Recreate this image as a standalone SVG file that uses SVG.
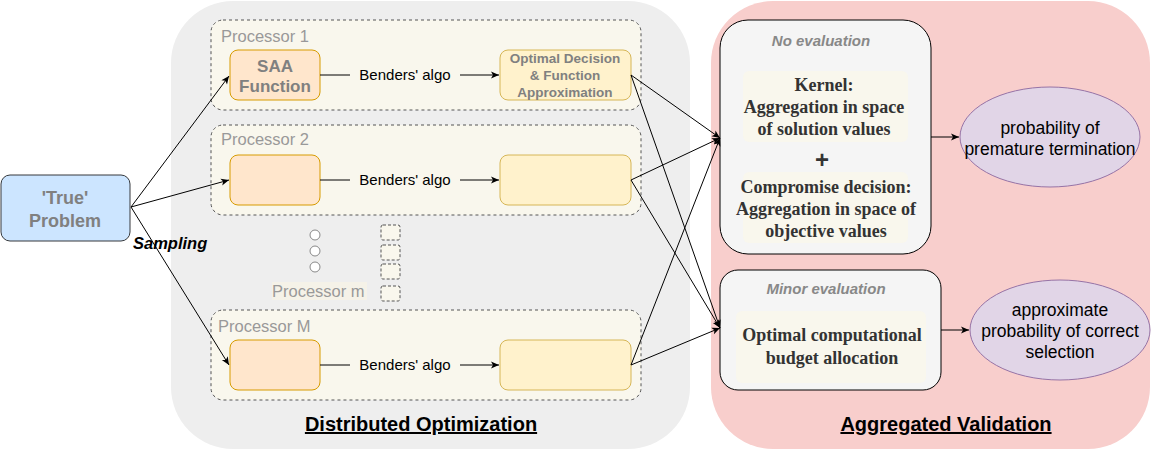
<svg xmlns="http://www.w3.org/2000/svg" width="1151" height="451" viewBox="0 0 1151 451">
<defs>
<marker id="ah" markerWidth="10" markerHeight="10" refX="9" refY="5" orient="auto" markerUnits="userSpaceOnUse">
<path d="M1,1.5 L9,5 L1,8.5 L3,5 Z" fill="#000"/>
</marker>
<style>
.s{font-family:"Liberation Sans",Arial,sans-serif}
.proc{fill:#f9f7ed;stroke:#555;stroke-dasharray:3 3;stroke-width:1}
.plab{font-family:"Liberation Sans",Arial,sans-serif;font-size:16.5px;fill:#999}
.saa{fill:#ffe6cc;stroke:#d79b00;stroke-width:1}
.opt{fill:#fff2cc;stroke:#d6b656;stroke-width:1}
.ben{font-family:"Liberation Sans",Arial,sans-serif;font-size:15px;fill:#000}
.c{fill:none;stroke:#000;stroke-width:1}
.ser{font-family:"Liberation Serif","Times New Roman",serif;font-weight:bold;font-size:18px;fill:#333}
.ell{fill:#e1d5e7;stroke:#9673a6}
.et{font-family:"Liberation Sans",Arial,sans-serif;font-size:17.5px;fill:#000}
.title{font-family:"Liberation Sans",Arial,sans-serif;font-size:20px;font-weight:bold;text-decoration:underline;fill:#000}
.sq{fill:#f9f7ed;stroke:#555;stroke-dasharray:3 2}
</style>
</defs>
<g id="dist-container">
<rect x="171" y="1" width="519" height="448" rx="62" fill="#eeeeee"/>
<text class="title" x="421" y="431" text-anchor="middle">Distributed Optimization</text>
</g>
<g id="agg-container">
<rect x="711" y="1" width="439" height="448" rx="62" fill="#f8cecc"/>
<text class="title" x="946" y="431" text-anchor="middle">Aggregated Validation</text>
</g>
<g id="processor1">
<rect class="proc" x="211" y="20" width="430" height="90" rx="12"/>
<text class="plab" x="221" y="42">Processor 1</text>
<rect class="saa" x="230" y="50" width="90" height="50" rx="8"/>
<text class="s" x="275" y="72" text-anchor="middle" font-size="17" font-weight="bold" fill="#808080">SAA</text>
<text class="s" x="275" y="92" text-anchor="middle" font-size="17" font-weight="bold" fill="#808080">Function</text>
<text class="ben" x="405" y="80" text-anchor="middle">Benders' algo</text>
<rect class="opt" x="500" y="50" width="131" height="50" rx="8"/>
<text class="s" x="565" y="63" text-anchor="middle" font-size="13.5" font-weight="bold" fill="#808080">Optimal Decision</text>
<text class="s" x="565" y="80" text-anchor="middle" font-size="13.5" font-weight="bold" fill="#808080">&amp; Function</text>
<text class="s" x="565" y="97" text-anchor="middle" font-size="13.5" font-weight="bold" fill="#808080">Approximation</text>
</g>
<g id="processor2">
<rect class="proc" x="211" y="125" width="430" height="90" rx="12"/>
<text class="plab" x="221" y="145">Processor 2</text>
<rect class="saa" x="230" y="155" width="90" height="50" rx="8"/>
<text class="ben" x="405" y="185" text-anchor="middle">Benders' algo</text>
<rect class="opt" x="500" y="155" width="131" height="50" rx="8"/>
</g>
<g id="processorM">
<rect class="proc" x="211" y="310" width="430" height="90" rx="12"/>
<text class="plab" x="218" y="332">Processor M</text>
<rect class="saa" x="230" y="340" width="90" height="50" rx="8"/>
<text class="ben" x="405" y="370" text-anchor="middle">Benders' algo</text>
<rect class="opt" x="500" y="340" width="131" height="50" rx="8"/>
</g>
<g id="ellipsis">
<circle cx="315" cy="235" r="5" fill="#fff" stroke="#888"/>
<circle cx="315" cy="251" r="5" fill="#fff" stroke="#888"/>
<circle cx="315" cy="267" r="5" fill="#fff" stroke="#888"/>
<rect x="272" y="282" width="95" height="18" fill="#f5f2e8"/>
<text class="plab" x="272" y="297">Processor m</text>
<rect class="sq" x="381" y="225" width="19" height="15" rx="2"/>
<rect class="sq" x="381" y="245" width="19" height="15" rx="2"/>
<rect class="sq" x="381" y="264" width="19" height="15" rx="2"/>
<rect class="sq" x="381" y="286" width="19" height="15" rx="2"/>
</g>
<g id="true-problem">
<rect x="1" y="175" width="129" height="66" rx="9" fill="#cce5ff" stroke="#36393d"/>
<text class="s" x="65" y="204" text-anchor="middle" font-size="18" font-weight="bold" fill="#808080">'True'</text>
<text class="s" x="65" y="227" text-anchor="middle" font-size="18" font-weight="bold" fill="#808080">Problem</text>
</g>
<g id="no-evaluation">
<rect x="720" y="20" width="211" height="234" rx="28" fill="#f5f5f5" stroke="#000"/>
<text class="s" x="821" y="46" text-anchor="middle" font-size="15" font-weight="bold" font-style="italic" fill="#888">No evaluation</text>
<rect x="743" y="71" width="165" height="71" rx="6" fill="#f9f7ed"/>
<text class="ser" x="824" y="91" text-anchor="middle">Kernel:</text>
<text class="ser" x="824" y="113" text-anchor="middle">Aggregation in space</text>
<text class="ser" x="824" y="135" text-anchor="middle">of solution values</text>
<text class="s" x="822" y="168" text-anchor="middle" font-size="24" font-weight="bold" fill="#333">+</text>
<rect x="743" y="172" width="165" height="71" rx="6" fill="#f9f7ed"/>
<text class="ser" x="826" y="193" text-anchor="middle">Compromise decision:</text>
<text class="ser" x="826" y="215" text-anchor="middle">Aggregation in space of</text>
<text class="ser" x="826" y="237" text-anchor="middle">objective values</text>
</g>
<g id="minor-evaluation">
<rect x="720" y="270" width="221" height="120" rx="18" fill="#f5f5f5" stroke="#000"/>
<text class="s" x="826" y="294" text-anchor="middle" font-size="15" font-weight="bold" font-style="italic" fill="#888">Minor evaluation</text>
<rect x="736" y="311" width="190" height="72" rx="6" fill="#f9f7ed"/>
<text class="ser" x="832" y="341" text-anchor="middle">Optimal computational</text>
<text class="ser" x="832" y="364" text-anchor="middle">budget allocation</text>
</g>
<g id="premature">
<ellipse class="ell" cx="1050" cy="137" rx="90" ry="50"/>
<text class="et" x="1050" y="134" text-anchor="middle">probability of</text>
<text class="et" x="1050" y="155" text-anchor="middle">premature termination</text>
</g>
<g id="pcs">
<ellipse class="ell" cx="1060" cy="330" rx="90" ry="50"/>
<text class="et" x="1060" y="316" text-anchor="middle">approximate</text>
<text class="et" x="1060" y="337" text-anchor="middle">probability of correct</text>
<text class="et" x="1060" y="358" text-anchor="middle">selection</text>
</g>
<g id="connectors">
<line class="c" x1="131" y1="207" x2="229" y2="76" marker-end="url(#ah)"/>
<line class="c" x1="131" y1="207" x2="229" y2="180" marker-end="url(#ah)"/>
<line class="c" x1="131" y1="207" x2="229" y2="365" marker-end="url(#ah)"/>
<text class="s" x="133" y="249" font-size="16.5" font-weight="bold" font-style="italic" fill="#000">Sampling</text>
<line class="c" x1="320" y1="75" x2="350" y2="75"/>
<line class="c" x1="460" y1="75" x2="499" y2="75" marker-end="url(#ah)"/>
<line class="c" x1="320" y1="180" x2="350" y2="180"/>
<line class="c" x1="460" y1="180" x2="499" y2="180" marker-end="url(#ah)"/>
<line class="c" x1="320" y1="365" x2="350" y2="365"/>
<line class="c" x1="460" y1="365" x2="499" y2="365" marker-end="url(#ah)"/>
<line class="c" x1="631" y1="75" x2="720" y2="138" marker-end="url(#ah)"/>
<line class="c" x1="631" y1="75" x2="720" y2="328" marker-end="url(#ah)"/>
<line class="c" x1="631" y1="180" x2="720" y2="138" marker-end="url(#ah)"/>
<line class="c" x1="631" y1="180" x2="720" y2="328" marker-end="url(#ah)"/>
<line class="c" x1="631" y1="365" x2="720" y2="138" marker-end="url(#ah)"/>
<line class="c" x1="631" y1="365" x2="720" y2="328" marker-end="url(#ah)"/>
<line class="c" x1="931" y1="137" x2="959" y2="137" marker-end="url(#ah)"/>
<line class="c" x1="941" y1="330" x2="969" y2="330" marker-end="url(#ah)"/>
</g>
</svg>
